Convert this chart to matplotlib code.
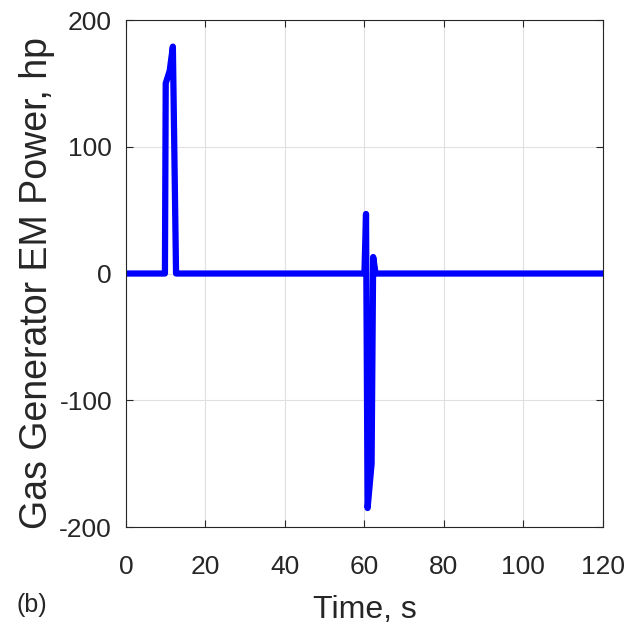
import numpy as np
import matplotlib.pyplot as plt

plt.rcParams['font.family'] = ['Liberation Sans', 'DejaVu Sans']
plt.rcParams['axes.unicode_minus'] = False

# time (s) and gas generator EM power (hp)
time = [0, 9.8, 10.0, 11.0, 11.8, 12.6, 13.2, 60.0, 60.4, 60.8, 61.8, 62.2, 62.8, 120]
power = [0, 0, 150, 160, 179, 0, 0, 0, 47, -185, -150, 13, 0, 0]

xticks = [0, 20, 40, 60, 80, 100, 120]
yticks = [-200, -100, 0, 100, 200]

fig = plt.figure(figsize=(6.28, 6.35), dpi=100)
ax = fig.add_axes([0.2006, 0.170, 0.7594, 0.7985])

ax.plot(time, power, color='#0000ff', linewidth=4.5, solid_joinstyle='round')

ax.set_xlim(0, 120)
ax.set_ylim(-200, 200)
ax.set_xticks(xticks)
ax.set_yticks(yticks)
ax.tick_params(direction='in', labelsize=19, top=True, right=True, length=5, colors='#262626')
ax.tick_params(axis='x', pad=20)
ax.tick_params(axis='y', pad=10)
ax.grid(True, color='#e0e0e0', linewidth=0.8)
for s in ax.spines.values():
    s.set_color('#262626')

ax.set_xlabel('Time, s', fontsize=23, color='#262626', va='center')
ax.xaxis.set_label_coords(0.5, -0.164)
ax.set_ylabel('Gas Generator EM Power, hp', fontsize=27, color='#262626', va='center')
ax.yaxis.set_label_coords(-0.187, 0.482)
fig.text(0.051, 0.048, '(b)', fontsize=18, color='#262626', ha='center', va='center')

fig.savefig('out.png')
